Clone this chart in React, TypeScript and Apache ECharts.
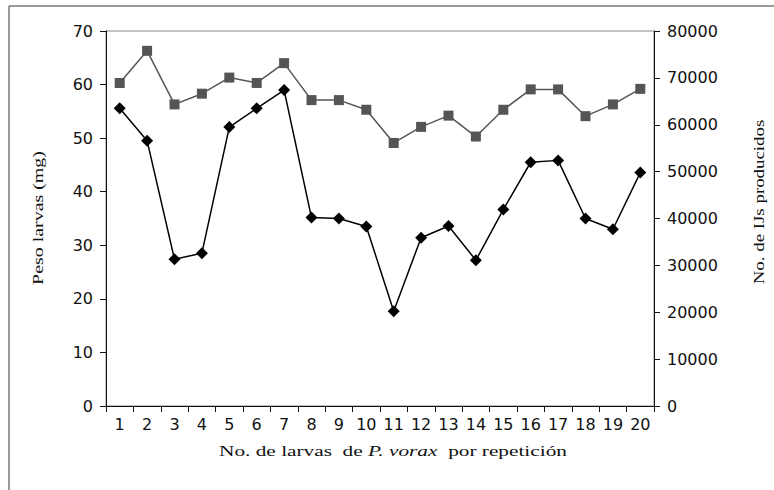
import React, { useEffect, useRef } from "react";
import * as echarts from "echarts";

const categories = ["1","2","3","4","5","6","7","8","9","10","11","12","13","14","15","16","17","18","19","20"];
const pesoLarvas = [60.3, 66.3, 56.3, 58.3, 61.3, 60.3, 64.0, 57.1, 57.1, 55.3, 49.1, 52.1, 54.2, 50.3, 55.3, 59.1, 59.1, 54.1, 56.3, 59.2];
const ijsProducidos = [63500, 56600, 31300, 32600, 59500, 63500, 67400, 40200, 40000, 38300, 20200, 35900, 38400, 31100, 41900, 52000, 52400, 40000, 37700, 49800];

const xTitle = "No. de larvas  de {i|P. vorax}  por repetición";
const leftTitle = "Peso larvas (mg)";
const rightTitle = "No. de IJs producidos";

const tickFont = { fontFamily: "DejaVu Sans, Arial, sans-serif", fontSize: 16, color: "#111" };
const serif = "'Liberation Serif', 'Times New Roman', serif";

export default function App() {
  const ref = useRef<HTMLDivElement>(null);
  useEffect(() => {
    if (!ref.current) return;
    const chart = echarts.init(ref.current, undefined, { renderer: "svg" });
    chart.setOption({
      animation: false,
      backgroundColor: "#fff",
      grid: { left: 106, right: 120, top: 31, bottom: 84, show: true, borderColor: "#888", borderWidth: 1 },
      graphic: [
        { type: "line", shape: { x1: 9, y1: 6, x2: 774, y2: 6 }, style: { stroke: "#777", lineWidth: 1.5 } },
        { type: "line", shape: { x1: 9, y1: 6, x2: 9, y2: 490 }, style: { stroke: "#777", lineWidth: 1.5 } },
        {
          type: "text",
          x: 393,
          y: 451,
          scaleX: 1.42,
          style: {
            text: xTitle,
            rich: { i: { fontStyle: "italic", fontFamily: serif, fontSize: 15, fill: "#111" } },
            fontFamily: serif,
            fontSize: 15,
            fill: "#111",
            align: "center",
            verticalAlign: "middle",
          },
        },
        {
          type: "text",
          x: 38,
          y: 218,
          rotation: Math.PI / 2,
          scaleX: 1.33,
          style: { text: leftTitle, fontFamily: serif, fontSize: 15, fill: "#111", align: "center", verticalAlign: "middle" },
        },
        {
          type: "text",
          x: 759,
          y: 202,
          rotation: Math.PI / 2,
          scaleX: 1.26,
          style: { text: rightTitle, fontFamily: serif, fontSize: 15, fill: "#111", align: "center", verticalAlign: "middle" },
        },
      ],
      xAxis: {
        type: "category",
        data: categories,
        boundaryGap: true,
        axisLine: { lineStyle: { color: "#111", width: 1 } },
        axisTick: { show: true, alignWithLabel: false, length: 6, lineStyle: { color: "#111" } },
        axisLabel: { ...tickFont, margin: 10, interval: 0 },
        splitLine: { show: false },
      },
      yAxis: [
        {
          type: "value",
          min: 0,
          max: 70,
          interval: 10,
          position: "left",
          axisLine: { show: true, lineStyle: { color: "#111", width: 1 } },
          axisTick: { show: true, length: 6, lineStyle: { color: "#111" } },
          axisLabel: { ...tickFont, margin: 13 },
          splitLine: { show: false },
        },
        {
          type: "value",
          min: 0,
          max: 80000,
          interval: 10000,
          position: "right",
          axisLine: { show: true, lineStyle: { color: "#111", width: 1 } },
          axisTick: { show: true, length: 6, lineStyle: { color: "#111" } },
          axisLabel: { ...tickFont, margin: 13, formatter: (v: number) => String(v) },
          splitLine: { show: false },
        },
      ],
      series: [
        {
          type: "line",
          name: "Peso larvas",
          yAxisIndex: 0,
          data: pesoLarvas,
          symbol: "rect",
          symbolSize: 10,
          itemStyle: { color: "#555" },
          lineStyle: { color: "#555", width: 1.5 },
          z: 2,
        },
        {
          type: "line",
          name: "IJs producidos",
          yAxisIndex: 1,
          data: ijsProducidos,
          symbol: "diamond",
          symbolSize: 12,
          itemStyle: { color: "#000" },
          lineStyle: { color: "#000", width: 1.5 },
          z: 3,
        },
      ],
    });
    return () => chart.dispose();
  }, []);
  return <div ref={ref} style={{ width: 774, height: 490, position: "absolute", left: 0, top: 0 }} />;
}
